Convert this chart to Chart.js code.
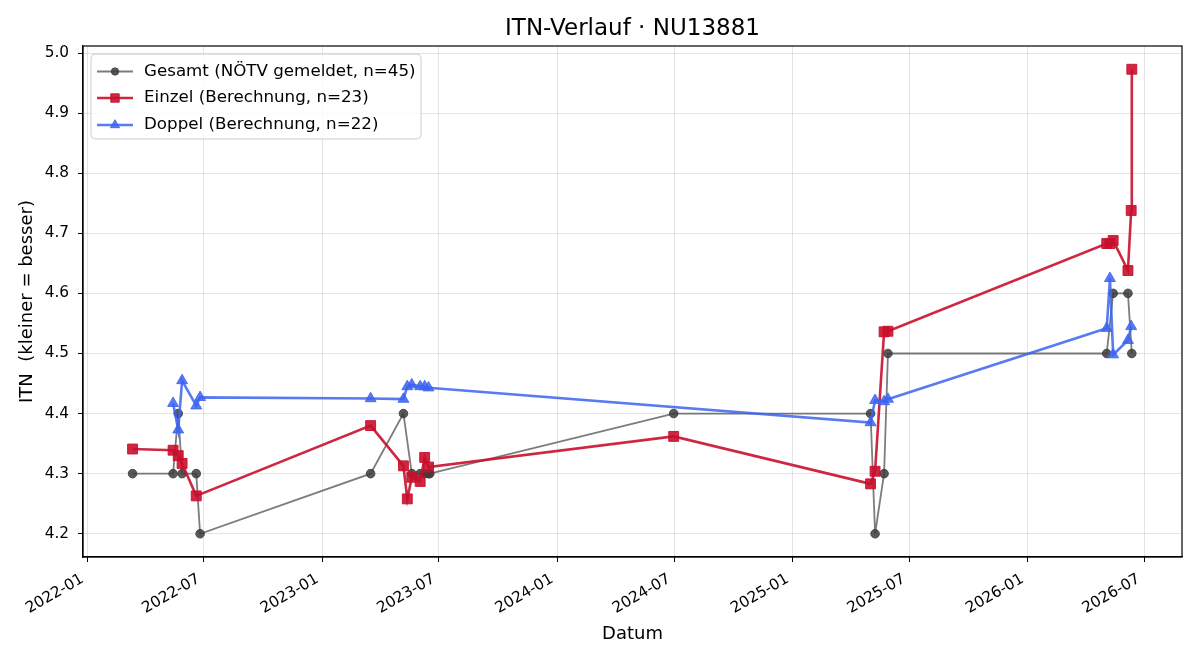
<!DOCTYPE html>
<html>
<head>
<meta charset="utf-8">
<script src="https://cdn.jsdelivr.net/npm/chart.js@4.4.1/dist/chart.umd.min.js"></script>
<style>
  html, body { margin: 0; padding: 0; background: #fff; }
  #wrap { width: 1200px; height: 660px; position: relative; }
</style>
</head>
<body>
<div id="wrap"><canvas id="itnChart" width="1200" height="660"></canvas></div>
<script>
// data
var gesamtDates = ['2022-03-12','2022-05-14','2022-05-22','2022-05-28','2022-06-19','2022-06-25',
  '2023-03-17','2023-05-07','2023-05-20','2023-06-02','2023-06-09','2023-06-15','2023-06-17',
  '2024-06-30','2025-05-02','2025-05-09','2025-05-23','2025-05-29',
  '2026-05-04','2026-05-14','2026-06-06','2026-06-12'];
var gesamtValues = [4.3, 4.3, 4.4, 4.3, 4.3, 4.2,
  4.3, 4.4, 4.3, 4.3, 4.3, 4.3, 4.3,
  4.4, 4.4, 4.2, 4.3, 4.5,
  4.5, 4.6, 4.6, 4.5];

var einzelDates = ['2022-03-12','2022-05-14','2022-05-22','2022-05-28','2022-06-19',
  '2023-03-17','2023-05-07','2023-05-13','2023-05-20','2023-06-02','2023-06-09','2023-06-15',
  '2024-06-30','2025-05-02','2025-05-09','2025-05-23','2025-05-29',
  '2026-05-04','2026-05-09','2026-05-14','2026-06-06','2026-06-11','2026-06-12'];
var einzelValues = [4.341, 4.339, 4.330, 4.317, 4.263,
  4.380, 4.313, 4.258, 4.294, 4.287, 4.327, 4.311,
  4.362, 4.283, 4.304, 4.536, 4.537,
  4.683, 4.683, 4.688, 4.638, 4.738, 4.973];

var doppelDates = ['2022-05-14','2022-05-22','2022-05-28','2022-06-19','2022-06-25',
  '2023-03-17','2023-05-07','2023-05-13','2023-05-20','2023-06-02','2023-06-09','2023-06-15',
  '2025-05-02','2025-05-09','2025-05-23','2025-05-29',
  '2026-05-04','2026-05-09','2026-05-14','2026-06-06','2026-06-11'];
var doppelValues = [4.417, 4.373, 4.455, 4.413, 4.427,
  4.425, 4.424, 4.445, 4.448, 4.445, 4.445, 4.443,
  4.385, 4.422, 4.420, 4.424,
  4.542, 4.625, 4.498, 4.522, 4.545];

var xTickLabels = ['2022-01','2022-07','2023-01','2023-07','2024-01','2024-07','2025-01','2025-07','2026-01','2026-07'];
var yTickValues = [4.2, 4.3, 4.4, 4.5, 4.6, 4.7, 4.8, 4.9, 5.0];

function toTime(s) {
  var p = s.split('-');
  return Date.UTC(+p[0], +p[1] - 1, p[2] ? +p[2] : 1);
}
function toPoints(dates, values) {
  return dates.map(function (d, i) { return { x: toTime(d), y: values[i] }; });
}
function fmtMonth(v) {
  var d = new Date(v);
  var m = d.getUTCMonth() + 1;
  return d.getUTCFullYear() + '-' + (m < 10 ? '0' + m : m);
}

var DAY = 86400000;
var FONT = "'DejaVu Sans', sans-serif";

var grayLine = 'rgba(68,68,68,0.7)';
var grayDot = 'rgba(60,60,60,0.85)';
var redLine = 'rgba(200,16,46,0.9)';
var blueLine = 'rgba(60,100,240,0.85)';

// matplotlib-like title, frame and legend inside the axes
var decorPlugin = {
  id: 'decor',
  afterDraw: function (chart) {
    var ctx = chart.ctx, a = chart.chartArea;
    ctx.save();
    ctx.fillStyle = '#000';
    ctx.font = '23px ' + FONT;
    ctx.textAlign = 'center';
    ctx.textBaseline = 'middle';
    ctx.fillText('ITN-Verlauf \u00b7 NU13881', (a.left + a.right) / 2, 29);

    ctx.strokeStyle = '#000';
    ctx.lineWidth = 1.2;
    ctx.strokeRect(a.left, a.top, a.right - a.left, a.bottom - a.top);

    // legend box
    var bx = 91, by = 54, bw = 330, bh = 85, r = 4;
    ctx.beginPath();
    ctx.moveTo(bx + r, by);
    ctx.arcTo(bx + bw, by, bx + bw, by + bh, r);
    ctx.arcTo(bx + bw, by + bh, bx, by + bh, r);
    ctx.arcTo(bx, by + bh, bx, by, r);
    ctx.arcTo(bx, by, bx + bw, by, r);
    ctx.closePath();
    ctx.fillStyle = 'rgba(255,255,255,0.8)';
    ctx.fill();
    ctx.strokeStyle = 'rgba(204,204,204,1)';
    ctx.lineWidth = 1;
    ctx.stroke();

    var rows = [71.5, 98, 125];
    chart.data.datasets.forEach(function (ds, i) {
      var y = rows[i];
      ctx.strokeStyle = ds.borderColor;
      ctx.lineWidth = ds.borderWidth;
      ctx.beginPath();
      ctx.moveTo(97, y);
      ctx.lineTo(133, y);
      ctx.stroke();
      ctx.fillStyle = ds.pointBackgroundColor;
      ctx.strokeStyle = ds.pointBorderColor;
      ctx.lineWidth = 1;
      Chart.helpers.drawPoint(ctx, {
        pointStyle: ds.pointStyle, radius: ds.pointRadius * 0.85, rotation: 0,
        borderWidth: 1
      }, 115, y);
      ctx.fillStyle = '#000';
      ctx.font = '16.7px ' + FONT;
      ctx.textAlign = 'left';
      ctx.textBaseline = 'middle';
      ctx.fillText(ds.label, 144, y);
    });
    ctx.restore();
  }
};

var ctx = document.getElementById('itnChart').getContext('2d');
var itnChart = new Chart(ctx, {
  type: 'line',
  data: {
    datasets: [{
      label: 'Gesamt (N\u00d6TV gemeldet, n=45)',
      data: toPoints(gesamtDates, gesamtValues),
      borderColor: grayLine,
      borderWidth: 1.8,
      pointStyle: 'circle',
      pointRadius: 4.3,
      pointBackgroundColor: grayDot,
      pointBorderColor: grayDot,
      pointBorderWidth: 1,
      order: 3
    }, {
      label: 'Einzel (Berechnung, n=23)',
      data: toPoints(einzelDates, einzelValues),
      borderColor: redLine,
      borderWidth: 2.6,
      pointStyle: 'rect',
      pointRadius: 7,
      pointBackgroundColor: redLine,
      pointBorderColor: redLine,
      pointBorderWidth: 1,
      order: 2
    }, {
      label: 'Doppel (Berechnung, n=22)',
      data: toPoints(doppelDates, doppelValues),
      borderColor: blueLine,
      borderWidth: 2.6,
      pointStyle: 'triangle',
      pointRadius: 6.3,
      pointBackgroundColor: blueLine,
      pointBorderColor: blueLine,
      pointBorderWidth: 1,
      order: 1
    }]
  },
  options: {
    responsive: false,
    animation: false,
    layout: { padding: { top: 46, right: 18, left: 0, bottom: 0 } },
    elements: { line: { tension: 0, fill: false } },
    plugins: {
      legend: { display: false },
      tooltip: { enabled: false },
      title: { display: false }
    },
    scales: {
      x: {
        type: 'linear',
        min: toTime('2022-01-01') - 7 * DAY,
        max: toTime('2022-01-01') + 1701 * DAY,
        afterBuildTicks: function (scale) {
          scale.ticks = xTickLabels.map(function (t) { return { value: toTime(t) }; });
        },
        afterFit: function (scale) { scale.height = 103; },
        ticks: {
          callback: function (v) { return fmtMonth(v); },
          minRotation: 30,
          maxRotation: 30,
          color: '#000',
          font: { family: FONT, size: 15.3 },
          padding: 8,
          labelOffset: -5
        },
        grid: { color: 'rgba(0,0,0,0.1)', tickColor: '#000', tickLength: 5 },
        border: { color: '#000', width: 1.2 },
        title: {
          display: true, text: 'Datum', color: '#000',
          font: { family: FONT, size: 18 },
          padding: { top: 0, bottom: 15 }
        }
      },
      y: {
        type: 'linear',
        min: 4.1613,
        max: 5.0117,
        afterBuildTicks: function (scale) {
          scale.ticks = yTickValues.map(function (v) { return { value: v }; });
        },
        afterFit: function (scale) { scale.width = 83; },
        ticks: {
          callback: function (v) { return v.toFixed(1); },
          color: '#000',
          font: { family: FONT, size: 15.3 },
          padding: 9
        },
        grid: { color: 'rgba(0,0,0,0.1)', tickColor: '#000', tickLength: 5 },
        border: { color: '#000', width: 1.2 },
        title: {
          display: true, text: 'ITN  (kleiner = besser)', color: '#000',
          font: { family: FONT, size: 18 },
          padding: { top: 17, bottom: 0 }
        }
      }
    }
  },
  plugins: [decorPlugin]
});
</script>
</body>
</html>
